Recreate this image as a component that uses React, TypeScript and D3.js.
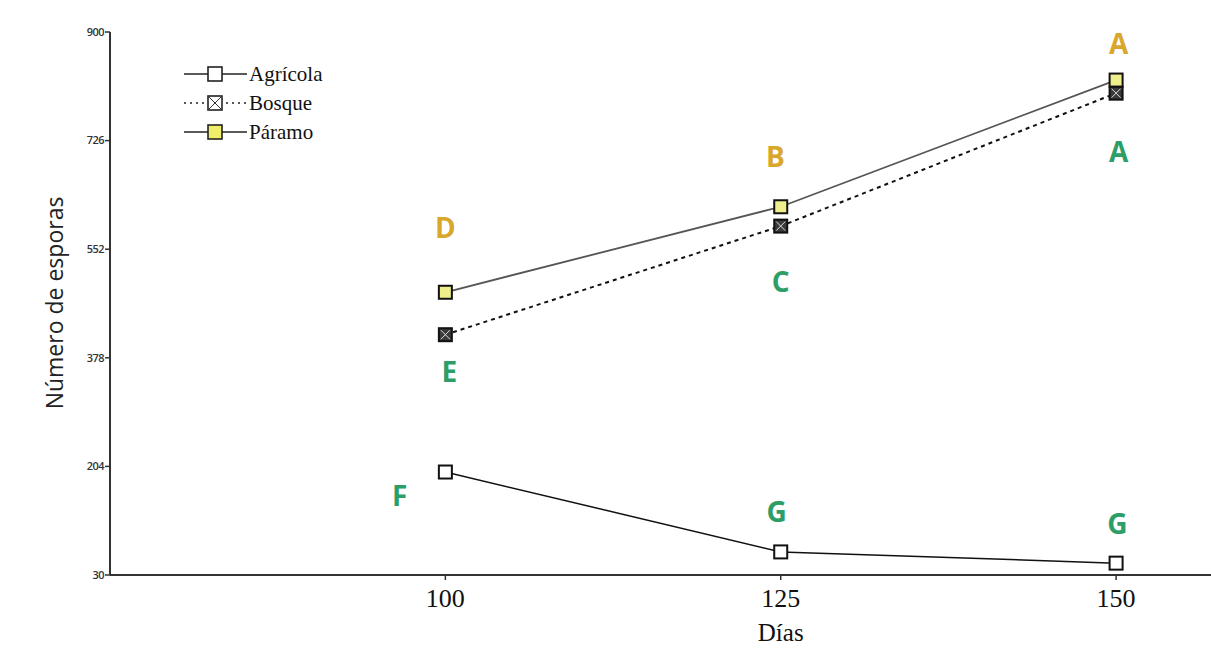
import React from 'react';
import * as d3 from 'd3';

const days = [100, 125, 150];
const agricola = [195, 67, 49];
const bosque = [415, 589, 802];
const paramo = [483, 620, 823];
const yTicks = [30, 204, 378, 552, 726, 900];

// letras de significancia (día, valor aproximado en el eje y)
const goldLetters = [
  { t: 'D', d: 100, v: 586 },
  { t: 'B', d: 124.6, v: 700 },
  { t: 'A', d: 150.2, v: 881 },
];
const greenLetters = [
  { t: 'A', d: 150.2, v: 708 },
  { t: 'C', d: 125, v: 499 },
  { t: 'E', d: 100.3, v: 355 },
  { t: 'F', d: 96.6, v: 157 },
  { t: 'G', d: 124.7, v: 131 },
  { t: 'G', d: 150.1, v: 112 },
];

const W = 1211;
const H = 650;
const x = d3.scaleLinear().domain([75, 157]).range([110, 1210]);
const y = d3.scaleLinear().domain([30, 900]).range([575, 32]);

const serif = '"Liberation Serif", "Times New Roman", serif';
const sans = '"Open Sans", "Noto Sans", sans-serif';
const GOLD = '#d9a72b';
const GREEN = '#2e9e68';

const Marker = ({ cx, cy, kind, s = 13 }: { cx: number; cy: number; kind: string; s?: number }) => {
  const h = s / 2;
  const fill = kind === 'paramo' ? '#eeee8c' : kind === 'bosque' ? '#3a3a3a' : '#ffffff';
  return (
    <g>
      <rect x={cx - h} y={cy - h} width={s} height={s} fill={fill} stroke="#111" strokeWidth={2} />
      {kind === 'bosque' && (
        <g stroke="#dddddd" strokeWidth={1}>
          <line x1={cx - h + 2} y1={cy - h + 2} x2={cx + h - 2} y2={cy + h - 2} />
          <line x1={cx + h - 2} y1={cy - h + 2} x2={cx - h + 2} y2={cy + h - 2} />
        </g>
      )}
    </g>
  );
};

const LegendMarker = ({ cx, cy, kind }: { cx: number; cy: number; kind: string }) => {
  const s = 14;
  const h = s / 2;
  const fill = kind === 'paramo' ? '#eeee6a' : '#ffffff';
  return (
    <g>
      <rect x={cx - h} y={cy - h} width={s} height={s} fill={fill} stroke="#222" strokeWidth={1.6} />
      {kind === 'bosque' && (
        <g stroke="#333" strokeWidth={1}>
          <line x1={cx - h} y1={cy - h} x2={cx + h} y2={cy + h} />
          <line x1={cx + h} y1={cy - h} x2={cx - h} y2={cy + h} />
        </g>
      )}
    </g>
  );
};

export default function App() {
  const line = d3
    .line<number>()
    .x((_, i) => x(days[i]))
    .y((d) => y(d));

  const legend = [
    { name: 'Agrícola', kind: 'agricola', dash: undefined },
    { name: 'Bosque', kind: 'bosque', dash: '2 4' },
    { name: 'Páramo', kind: 'paramo', dash: undefined },
  ];

  return (
    <svg width={W} height={H} style={{ position: 'absolute', left: 0, top: 0, background: '#fff' }}>
      {/* ejes */}
      <line x1={x(75)} y1={y(30)} x2={x(75)} y2={y(900)} stroke="#333" strokeWidth={2} />
      <line x1={x(75)} y1={y(30)} x2={W} y2={y(30)} stroke="#333" strokeWidth={2} />
      {yTicks.map((t) => (
        <g key={t}>
          <line x1={x(75) - 5} x2={x(75)} y1={y(t)} y2={y(t)} stroke="#333" strokeWidth={1.5} />
          <text x={x(75) - 6} y={y(t)} dy="0.35em" textAnchor="end" fontFamily={sans} fontSize={11}
            fontWeight={600} fill="#333" letterSpacing={-0.5}>
            {t}
          </text>
        </g>
      ))}
      {days.map((d) => (
        <g key={d}>
          <line x1={x(d)} x2={x(d)} y1={y(30)} y2={y(30) + 5} stroke="#333" strokeWidth={1.5} />
          <text x={x(d)} y={y(30) + 32} textAnchor="middle" fontFamily={serif} fontSize={26} fill="#111">
            {d}
          </text>
        </g>
      ))}
      <text x={x(125)} y={641} textAnchor="middle" fontFamily={serif} fontSize={25} fill="#111">
        Días
      </text>
      <text transform="translate(63,303) rotate(-90)" textAnchor="middle" fontFamily={sans} fontSize={23} fill="#222">
        Número de esporas
      </text>

      {/* series */}
      <path d={line(agricola) || ''} fill="none" stroke="#111" strokeWidth={1.5} />
      <path d={line(bosque) || ''} fill="none" stroke="#111" strokeWidth={2} strokeDasharray="4 4" />
      <path d={line(paramo) || ''} fill="none" stroke="#555" strokeWidth={1.8} />
      {agricola.map((v, i) => <Marker key={'a' + i} cx={x(days[i])} cy={y(v)} kind="agricola" />)}
      {bosque.map((v, i) => <Marker key={'b' + i} cx={x(days[i])} cy={y(v)} kind="bosque" />)}
      {paramo.map((v, i) => <Marker key={'p' + i} cx={x(days[i])} cy={y(v)} kind="paramo" />)}

      {/* leyenda */}
      {legend.map((l, i) => {
        const cy = 74 + i * 29;
        return (
          <g key={l.name}>
            <line x1={184} x2={247} y1={cy} y2={cy} stroke="#222" strokeWidth={1.5} strokeDasharray={l.dash} />
            <LegendMarker cx={215} cy={cy} kind={l.kind} />
            <text x={249} y={cy} dy="0.35em" fontFamily={serif} fontSize={21} fill="#111">
              {l.name}
            </text>
          </g>
        );
      })}

      {/* letras */}
      {goldLetters.map((l, i) => (
        <text key={'g' + i} x={x(l.d)} y={y(l.v)} dy="0.35em" textAnchor="middle" fontFamily={sans}
          fontWeight={700} fontSize={28} fill={GOLD}>
          {l.t}
        </text>
      ))}
      {greenLetters.map((l, i) => (
        <text key={'v' + i} x={x(l.d)} y={y(l.v)} dy="0.35em" textAnchor="middle" fontFamily={sans}
          fontWeight={700} fontSize={28} fill={GREEN}>
          {l.t}
        </text>
      ))}
    </svg>
  );
}
